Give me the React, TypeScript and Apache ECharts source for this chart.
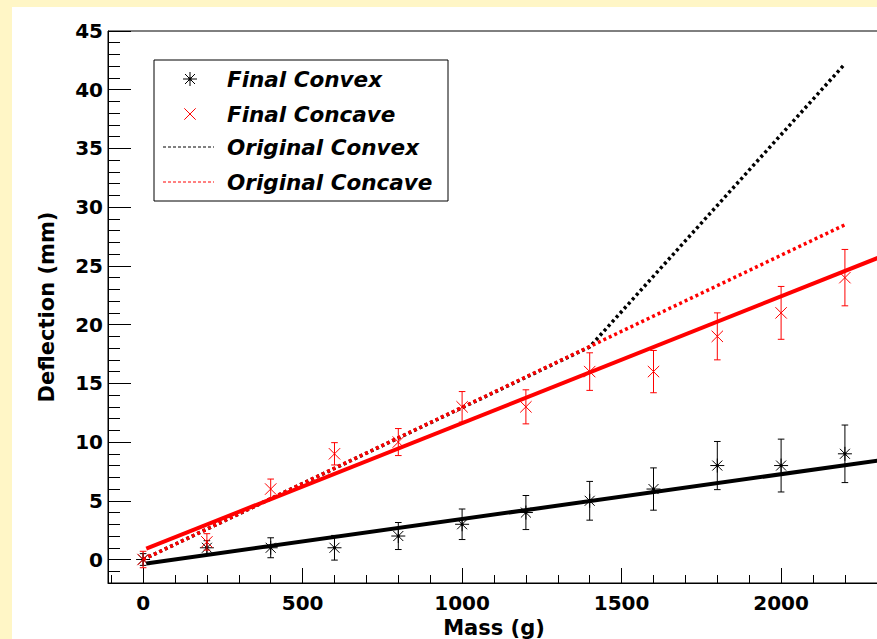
import React, { useEffect, useRef } from "react";
import * as echarts from "echarts";

// Measured deflection for each load
const mass = [0, 200, 400, 600, 800, 1000, 1200, 1400, 1600, 1800, 2000, 2200];
const finalConvex = [0, 1, 1, 1, 2, 3, 4, 5, 6, 8, 8, 9];
const finalConvexErr = [0.5, 0.6, 0.85, 1.05, 1.15, 1.3, 1.45, 1.65, 1.8, 2.05, 2.25, 2.45];
const finalConcave = [0, 1.5, 6, 9, 10, 13, 13, 16, 16, 19, 21, 24];
const finalConcaveErr = [0.7, 0.7, 0.85, 0.95, 1.15, 1.3, 1.45, 1.6, 1.8, 2.0, 2.25, 2.4];

// Original (pre-test) response curves
const originalConvexMass = [0, 1400, 2200];
const originalConvex = [0, 18.1, 42.2];
const originalConcaveMass = [0, 2200];
const originalConcave = [0, 28.5];

// Linear fits to the final measurements
const fitMass = [10, 2310];
const convexFit = [-0.34, 8.45];
const concaveFit = [0.93, 25.75];

const legendLabels = ["Final Convex", "Final Concave", "Original Convex", "Original Concave"];

const FONT = '"DejaVu Sans", "Liberation Sans", sans-serif';
const RED = "#ff0000";

type Marker = "star" | "cross";

function markerLines(cx: number, cy: number, kind: Marker, color: string) {
  const st = { stroke: color, lineWidth: 1 };
  const out: any[] = [];
  if (kind === "star") {
    const r = 7;
    const d = 5;
    out.push({ type: "line", shape: { x1: cx - r, y1: cy, x2: cx + r, y2: cy }, style: st });
    out.push({ type: "line", shape: { x1: cx, y1: cy - r, x2: cx, y2: cy + r }, style: st });
    out.push({ type: "line", shape: { x1: cx - d, y1: cy - d, x2: cx + d, y2: cy + d }, style: st });
    out.push({ type: "line", shape: { x1: cx - d, y1: cy + d, x2: cx + d, y2: cy - d }, style: st });
    out.push({ type: "circle", shape: { cx, cy, r: 1.6 }, style: { fill: color } });
  } else {
    const d = 5.7;
    out.push({ type: "line", shape: { x1: cx - d, y1: cy - d, x2: cx + d, y2: cy + d }, style: st });
    out.push({ type: "line", shape: { x1: cx - d, y1: cy + d, x2: cx + d, y2: cy - d }, style: st });
  }
  return out;
}

function errorSeries(name: string, ys: number[], errs: number[], color: string, kind: Marker) {
  return {
    type: "custom",
    name,
    data: mass.map((m, i) => [m, ys[i], errs[i]]),
    encode: { x: 0, y: 1 },
    z: 3,
    renderItem: (_params: any, api: any) => {
      const x = api.value(0);
      const y = api.value(1);
      const e = api.value(2);
      const c = api.coord([x, y]);
      const top = api.coord([x, y + e]);
      const bot = api.coord([x, y - e]);
      const st = { stroke: color, lineWidth: 1 };
      const cap = 3.3;
      const children: any[] = [
        { type: "line", shape: { x1: c[0], y1: top[1], x2: c[0], y2: bot[1] }, style: st },
        { type: "line", shape: { x1: c[0] - cap, y1: top[1], x2: c[0] + cap, y2: top[1] }, style: st },
        { type: "line", shape: { x1: c[0] - cap, y1: bot[1], x2: c[0] + cap, y2: bot[1] }, style: st },
        ...markerLines(c[0], c[1], kind, color),
      ];
      return { type: "group", children };
    },
  };
}

function lineSeries(name: string, xs: number[], ys: number[], color: string, dotted: boolean) {
  return {
    type: "line",
    name,
    data: xs.map((m, i) => [m, ys[i]]),
    symbol: "none",
    showSymbol: false,
    clip: true,
    z: 4,
    lineStyle: dotted
      ? { color, width: 3.5, type: [3, 3] }
      : { color, width: 4, type: "solid" },
  };
}

function buildLegend() {
  const top = 60;
  const rowY = [79, 114, 147, 182];
  const textX = 227;
  const children: any[] = [
    {
      type: "rect",
      shape: { x: 154, y: top, width: 294, height: 141 },
      style: { fill: "#fff", stroke: "#000", lineWidth: 1 },
    },
    ...markerLines(190, rowY[0], "star", "#000"),
    ...markerLines(190, rowY[1], "cross", RED),
    {
      type: "line",
      shape: { x1: 163, y1: rowY[2], x2: 214, y2: rowY[2] },
      style: { stroke: "#000", lineWidth: 1, lineDash: [3, 2] },
    },
    {
      type: "line",
      shape: { x1: 163, y1: rowY[3], x2: 214, y2: rowY[3] },
      style: { stroke: RED, lineWidth: 1, lineDash: [3, 2] },
    },
  ];
  legendLabels.forEach((label, i) => {
    children.push({
      type: "text",
      x: textX,
      y: rowY[i],
      style: {
        text: label,
        fill: "#000",
        fontFamily: FONT,
        fontSize: 21.5,
        fontWeight: "bold",
        fontStyle: "italic",
        verticalAlign: "middle",
        align: "left",
      },
    });
  });
  return { type: "group", z: 10, children };
}

export default function App() {
  const ref = useRef<HTMLDivElement>(null);

  useEffect(() => {
    if (!ref.current) return;
    const chart = echarts.init(ref.current, undefined, { renderer: "svg" });
    const labelStyle = {
      fontFamily: FONT,
      fontWeight: "bold" as const,
      fontSize: 20,
      color: "#000",
      formatter: (v: number) => String(v),
    };
    const nameStyle = {
      fontFamily: FONT,
      fontWeight: "bold" as const,
      fontSize: 21,
      color: "#000",
    };
    chart.setOption({
      animation: false,
      grid: {
        left: 108,
        top: 31,
        width: 772,
        height: 552,
        show: true,
        borderColor: "#000",
        borderWidth: 1,
        backgroundColor: "transparent",
        containLabel: false,
        outerBoundsMode: "none",
      },
      xAxis: {
        type: "value",
        min: -110,
        max: 2310,
        splitNumber: 5,
        minInterval: 500,
        maxInterval: 500,
        name: "Mass (g)",
        nameLocation: "middle",
        nameGap: 32,
        nameTextStyle: nameStyle,
        axisLine: { show: true, onZero: false, lineStyle: { color: "#000", width: 1 } },
        axisTick: { show: true, inside: true, length: 15, lineStyle: { color: "#000", width: 1 } },
        minorTick: { show: true, splitNumber: 5, length: 8, lineStyle: { color: "#000", width: 1 } },
        axisLabel: { ...labelStyle, margin: 10, showMinLabel: false, showMaxLabel: false },
        splitLine: { show: false },
      },
      yAxis: {
        type: "value",
        min: -2,
        max: 45,
        splitNumber: 9,
        minInterval: 5,
        maxInterval: 5,
        name: "Deflection (mm)",
        nameLocation: "middle",
        nameGap: 51,
        nameRotate: 90,
        nameTextStyle: nameStyle,
        axisLine: { show: true, onZero: false, lineStyle: { color: "#000", width: 1 } },
        axisTick: { show: true, inside: true, length: 23, lineStyle: { color: "#000", width: 1 } },
        minorTick: { show: true, splitNumber: 5, length: 12, lineStyle: { color: "#000", width: 1 } },
        axisLabel: { ...labelStyle, margin: 5, showMinLabel: false, showMaxLabel: true },
        splitLine: { show: false },
      },
      graphic: [buildLegend()],
      series: [
        errorSeries("Final Convex", finalConvex, finalConvexErr, "#000", "star"),
        errorSeries("Final Concave", finalConcave, finalConcaveErr, RED, "cross"),
        lineSeries("Original Convex", originalConvexMass, originalConvex, "#000", true),
        lineSeries("Original Concave", originalConcaveMass, originalConcave, RED, true),
        lineSeries("Final Convex fit", fitMass, convexFit, "#000", false),
        lineSeries("Final Concave fit", fitMass, concaveFit, RED, false),
      ],
    });
    return () => chart.dispose();
  }, []);

  return (
    <div
      style={{
        position: "fixed",
        left: 0,
        top: 0,
        width: 877,
        height: 639,
        overflow: "hidden",
        background: "#fff6c6",
      }}
    >
      <div
        style={{
          position: "absolute",
          left: 12,
          top: 7,
          width: 880,
          height: 640,
          background: "#ffffff",
        }}
      />
      <div
        ref={ref}
        style={{ position: "absolute", left: 0, top: 0, width: 884, height: 639 }}
      />
    </div>
  );
}
